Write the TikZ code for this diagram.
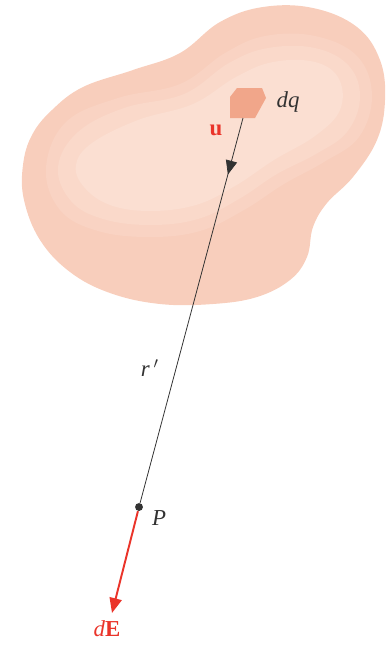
\documentclass[tikz,border=0pt]{standalone}
\usepackage{fontspec}
\setmainfont{Liberation Serif}
\usetikzlibrary{arrows.meta,decorations.markings}
\definecolor{bodyout}{RGB}{248,206,188}
\definecolor{bodymid}{RGB}{249,211,195}
\definecolor{bodylight}{RGB}{250,217,202}
\definecolor{bodyin}{RGB}{251,223,210}
\definecolor{chargefill}{RGB}{241,166,138}
\definecolor{fieldred}{RGB}{234,52,42}
\definecolor{inkgray}{RGB}{50,50,50}
\begin{document}
\begin{tikzpicture}[x=0.02cm, y=-0.02cm,
	dot/.style={ circle, fill=inkgray, inner sep=0pt, minimum size=4.5pt },
	lbl/.style={ inner sep=1pt, text=inkgray, font=\fontsize{13}{15}\selectfont },
	fieldarrow/.style={ fieldred, line width=1.1pt, -{Triangle[length=8.5pt,width=7pt]} },
	radius line/.style={ inkgray, line width=0.45pt, postaction=decorate,
		decoration={markings, mark=at position 0.147 with {\arrow{Triangle[length=8pt,width=6.5pt]}}} }
]
\useasboundingbox (0,0) rectangle (386,646);

% charged body, darker rim to lighter centre
\fill[bodyout] plot[smooth cycle, tension=0.65] coordinates {
	(180,53) (220,22) (263,7) (313,8) (357,27) (380,60) (385,100) (377,140) (353,177)
	(327,203) (313,227) (307,257) (290,280) (257,297) (213,304) (160,304) (110,293)
	(70,272) (40,240) (24,200) (23,165) (32,135) (52,110) (83,87) (133,70)};
\fill[bodymid] plot[smooth cycle, tension=0.65] coordinates {
	(66,122) (118,98) (180,84) (225,53) (265,36) (315,36) (357,56) (372,95) (359,137)
	(324,162) (284,184) (244,210) (200,231) (150,237) (98,231) (60,210) (46,168)};
\fill[bodylight] plot[smooth cycle, tension=0.65] coordinates {
	(78,132) (124,108) (184,94) (229,63) (268,48) (315,48) (349,66) (360,98) (347,132)
	(316,154) (277,174) (239,199) (198,219) (150,225) (103,219) (71,201) (58,167)};
\fill[bodyin] plot[smooth cycle, tension=0.65] coordinates {
	(92,143) (138,120) (193,104) (236,77) (273,62) (315,62) (339,79) (340,110) (315,136)
	(274,160) (235,186) (196,205) (150,211) (110,205) (84,187) (76,165)};

% charge element
\fill[chargefill] (237,88) -- (262,88) -- (266,98) -- (255,118) -- (230,118) -- (230,97) -- cycle;
\coordinate (dq) at (243,118);
\node[lbl] (dqlabel) at (288,102) {\textit{dq}};
\node[lbl, text=fieldred] (u) at (216,130) {\textbf{u}};

% field point
\node[dot] (P) at (139,507) {};
\node[lbl] (Plabel) at (159,518) {\textit{P}};
\node[lbl] (r) at (150,368) {\textit{r}\,$'$};
\coordinate (Etip) at (112,613);
\node[lbl, text=fieldred] (dE) at (107,629) {\textit{d}\textbf{E}};

\draw[radius line] (dq) -- (P);
\draw[fieldarrow] (P) -- (Etip);

\end{tikzpicture}
\end{document}
